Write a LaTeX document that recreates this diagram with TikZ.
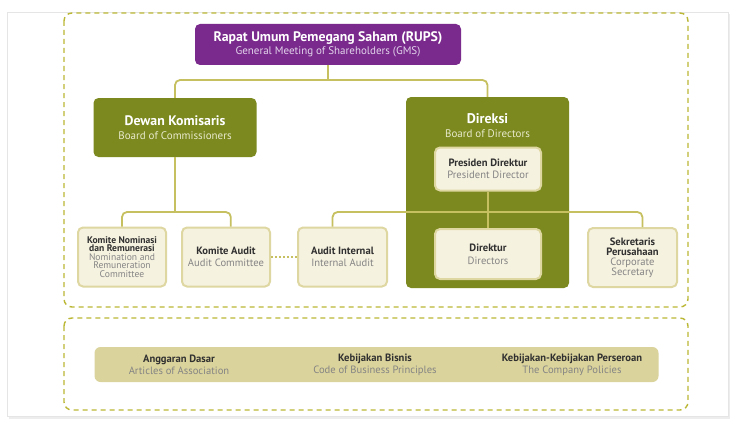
\documentclass[tikz,border=0pt]{standalone}
\usepackage{fontspec}
\setmainfont{PT Sans}
\usepackage{tikz}
\usetikzlibrary{arrows}

\definecolor{rupspurple}{RGB}{122,42,140}
\definecolor{rupssub}{RGB}{226,212,236}
\definecolor{olive}{RGB}{123,137,31}
\definecolor{olivesub}{RGB}{232,234,204}
\definecolor{cream}{RGB}{246,242,224}
\definecolor{creamline}{RGB}{222,215,162}
\definecolor{linkline}{RGB}{198,192,96}
\definecolor{dashline}{RGB}{186,184,52}
\definecolor{bandfill}{RGB}{219,211,156}
\definecolor{darktext}{RGB}{48,48,48}
\definecolor{greytext}{RGB}{132,132,132}

\begin{document}
\begin{tikzpicture}
  [x=1pt,y=-1pt,
   headbox/.style={fill=#1,rounded corners=5pt,inner sep=0pt,align=center,text=white,
     font=\fontsize{11}{13.5}\selectfont},
   smallbox/.style={draw=creamline,line width=2pt,fill=cream,rounded corners=5pt,
     inner sep=0pt,minimum width=88pt,minimum height=59pt,align=center,text=darktext,
     font=\fontsize{10.6}{11.8}\selectfont},
   link/.style={draw=linkline,line width=1.8pt},
   frame/.style={draw=dashline,line width=1.4pt,dash pattern=on 5pt off 4pt,rounded corners=8pt}]
  \useasboundingbox (0,0) rectangle (741,428);
  % card and the two dashed frames
  \fill[black!7] (9,14) rectangle (730,419);
  \draw[black!10,fill=white] (7,12) rectangle (728,416);
  \draw[frame] (64,13) rectangle (688,307);
  \draw[frame] (64,318) rectangle (688,410);

  \node[headbox=rupspurple,minimum width=266pt,minimum height=41pt] (rups) at (328,44.5)
    {{\fontsize{13.8}{14}\selectfont\bfseries Rapat Umum Pemegang Saham (RUPS)}\\
     {\color{rupssub}General Meeting of Shareholders (GMS)}};
  \node[headbox=olive,minimum width=163pt,minimum height=59pt] (komisaris) at (175,127.5)
    {{\fontsize{13.8}{14}\selectfont\bfseries Dewan Komisaris}\\
     {\color{olivesub}Board of Commissioners}};
  \node[headbox=olive,minimum width=163pt,minimum height=191pt] (direksi) at (487.5,192.5) {};
  \node[align=center,text=white,inner sep=0pt,font=\fontsize{11}{14}\selectfont] (dirtitle) at (487.5,126)
    {{\fontsize{14}{14}\selectfont\bfseries Direksi}\\
     {\color{olivesub}Board of Directors}};

  \node[smallbox,minimum width=106pt,minimum height=43pt] (presdir) at (488,169)
    {\textbf{Presiden Direktur}\\{\color{greytext}President Director}};
  \node[smallbox,minimum width=106pt,minimum height=50pt] (direktur) at (488,254)
    {\textbf{Direktur}\\[1pt]{\color{greytext}Directors}};
  \node[smallbox,font=\fontsize{9.6}{10}\selectfont] (nomrem) at (122,257)
    {\textbf{Komite Nominasi}\\[-1.5pt]\textbf{dan Remunerasi}\\[-1.5pt]{\color{greytext}Nomination and}\\[-1.5pt]
     {\color{greytext}Remuneration}\\[-1.5pt]{\color{greytext}Committee}};
  \node[smallbox] (kaudit) at (226,257)
    {\textbf{Komite Audit}\\{\color{greytext}Audit Committee}};
  \node[smallbox,minimum width=89pt] (ainternal) at (342.5,257)
    {\textbf{Audit Internal}\\{\color{greytext}Internal Audit}};
  \node[smallbox,minimum width=89pt] (sekper) at (632.5,257.5)
    {\textbf{Sekretaris}\\[-1.8pt]\textbf{Perusahaan}\\[-1.8pt]{\color{greytext}Corporate}\\[-1.8pt]{\color{greytext}Secretary}};

  % connectors
  \foreach \from/\y in {rups/80,komisaris/212}
    \draw[link] (\from.south) -- (\from.south |- 0,\y);
  \foreach \a/\b/\y in {komisaris.north/direksi.north/80,nomrem.north/kaudit.81/212,ainternal.108/sekper.72/212}
    \draw[link,rounded corners=5pt] (\a) -- (\a |- 0,\y) -- (\b |- 0,\y) -- (\b);
  \draw[link] (presdir.south) -- (direktur.north);
  \draw[link,dash pattern=on 2pt off 2pt] (kaudit.east) -- (ainternal.west);

  % band of documents
  \node[fill=bandfill,rounded corners=6pt,minimum width=564pt,minimum height=35pt] (band) at (376.5,364.5) {};
  \foreach \name/\x/\bold/\sub in {dasar/179/Anggaran Dasar/Articles of Association,
      bisnis/375/Kebijakan Bisnis/Code of Business Principles,
      kebijakan/572/Kebijakan-Kebijakan Perseroan/The Company Policies}
    \node[align=center,inner sep=0pt,text=darktext,font=\fontsize{10.6}{12}\selectfont] (\name) at (\x,364.5)
      {\textbf{\bold}\\{\color{greytext}\sub}};
\end{tikzpicture}
\end{document}
